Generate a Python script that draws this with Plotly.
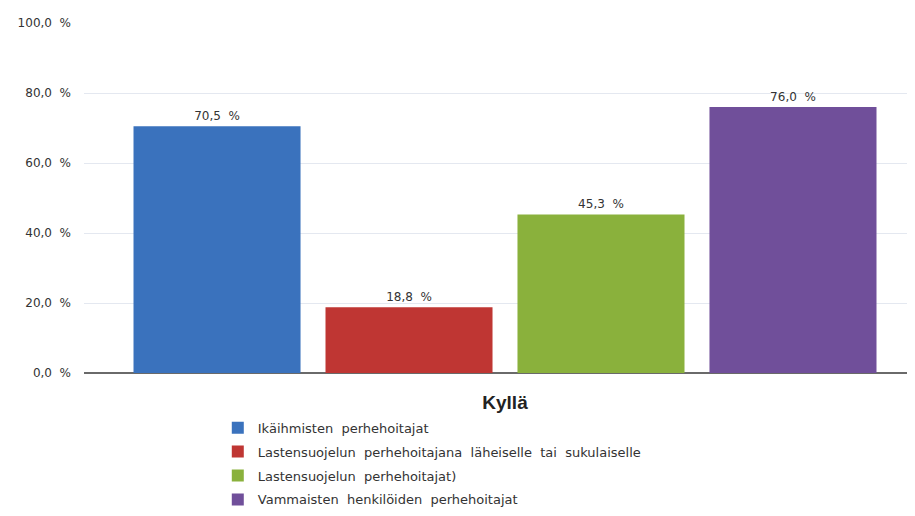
import plotly.graph_objects as go

category = ["Kyllä"]
series_names = [
    "Ikäihmisten perhehoitajat",
    "Lastensuojelun perhehoitajana läheiselle tai sukulaiselle",
    "Lastensuojelun perhehoitajat)",
    "Vammaisten henkilöiden perhehoitajat",
]
series_values = [70.5, 18.8, 45.3, 76.0]
series_colors = ["#3a72bd", "#bf3633", "#8ab13c", "#704f9a"]
y_ticks = [0, 20, 40, 60, 80, 100]
y_tick_labels = [f"{v:.1f}".replace(".", ",") + "\u00a0\u00a0%" for v in y_ticks]

FONT = "DejaVu Sans"
TEXT_COLOR = "#333333"
SP = "\u00a0\u00a0"  # wide word spacing like the original

fig = go.Figure()
for i, (name, value, color) in enumerate(zip(series_names, series_values, series_colors)):
    fig.add_trace(
        go.Bar(
            x=category,
            y=[value],
            name=name.replace(" ", SP),
            legendgroup=f"g{i}",
            marker=dict(color=color, line=dict(width=0)),
            texttemplate="%{y:.1f}" + SP + "%",
            textposition="outside",
            textfont=dict(family=FONT, size=12, color=TEXT_COLOR),
            cliponaxis=False,
        )
    )

# page body has an 8px margin, so the figure is 8px smaller than the window
fig.update_layout(
    barmode="group",
    bargap=0.1,
    bargroupgap=0.13,
    separators=", ",
    width=907,
    height=508,
    margin=dict(l=76, r=0, t=15, b=143),
    plot_bgcolor="white",
    paper_bgcolor="white",
    font=dict(family=FONT, size=12, color=TEXT_COLOR),
    showlegend=True,
    legend=dict(
        orientation="v",
        x=0.161,
        xanchor="left",
        y=-0.405,
        yanchor="bottom",
        tracegroupgap=4,
        font=dict(family=FONT, size=13, color=TEXT_COLOR),
        itemwidth=30,
    ),
)
fig.update_xaxes(
    range=[-0.4934, 0.4805],
    showgrid=False,
    showline=False,
    ticks="",
    tickfont=dict(family="Liberation Sans", size=19, color="#222222", weight="bold"),
    ticklabelstandoff=16,
)
fig.update_yaxes(
    range=[0, 100],
    tickmode="array",
    tickvals=y_ticks,
    ticktext=y_tick_labels,
    showgrid=True,
    gridcolor="#e4e8f0",
    gridwidth=1,
    zeroline=True,
    zerolinecolor="#6a6a6a",
    zerolinewidth=2,
    showline=False,
    ticks="",
    ticklabelstandoff=12,
    tickfont=dict(family=FONT, size=12, color=TEXT_COLOR),
)

fig.write_html("out.html")
